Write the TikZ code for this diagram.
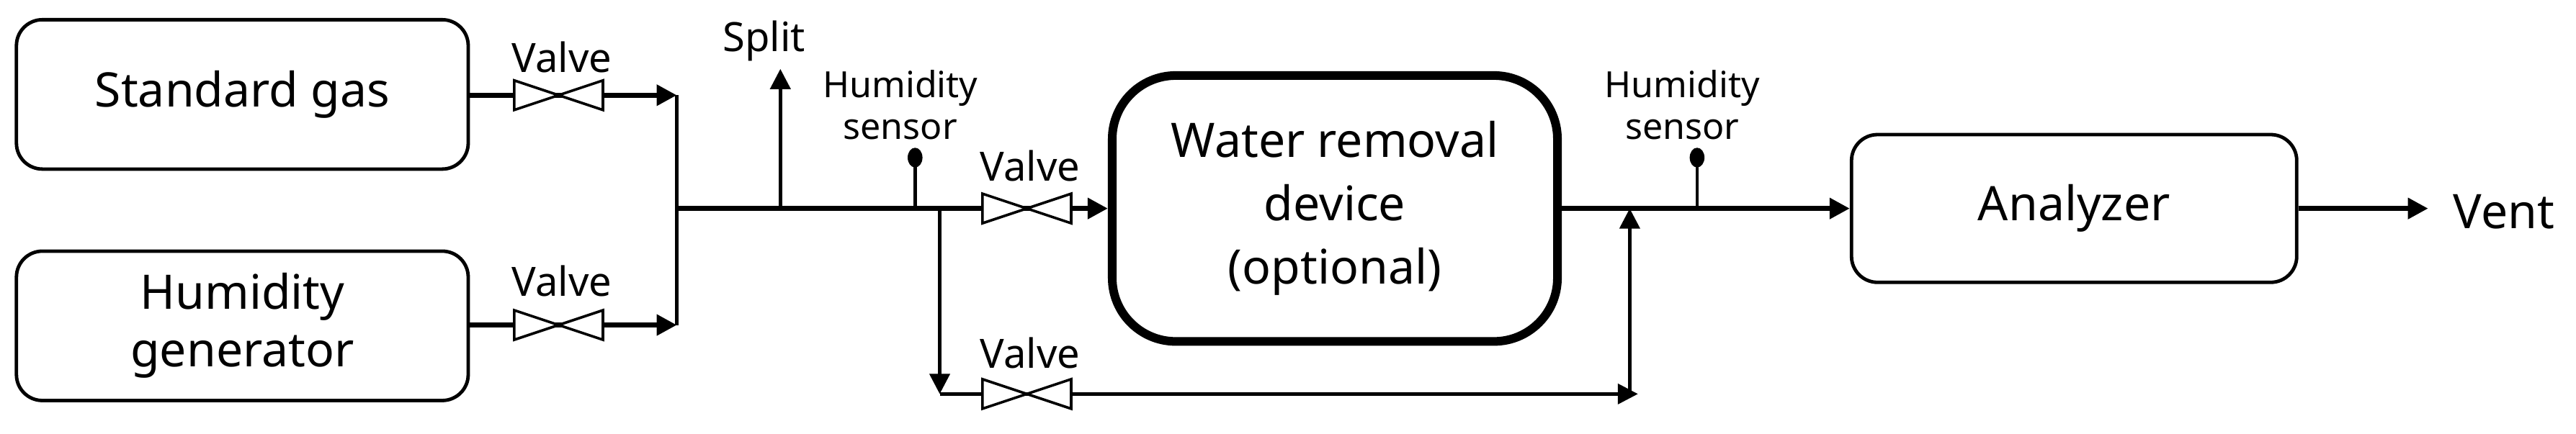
\documentclass[tikz,border=0pt]{standalone}
\usepackage{fontspec}
\setmainfont{Noto Sans}
\usetikzlibrary{arrows.meta}
\begin{document}
\begin{tikzpicture}[x=0.02cm,y=-0.02cm,
 box/.style={draw,line width=1.2pt,rounded corners=9pt,align=center,font=\fontsize{16.5}{20}\selectfont,inner sep=0pt},
 pipe/.style={line width=1.8pt},
 thin/.style={line width=1.1pt},
 arr/.style={-{Triangle[length=7pt,width=7pt]}},
 lbl/.style={font=\fontsize{14}{16}\selectfont,inner sep=0pt},
 slbl/.style={font=\fontsize{12.5}{14.5}\selectfont,inner sep=0pt,align=center},
 valve/.pic={\draw[line width=0.9pt,fill=white] (-27,-9)--(27,9)--(27,-9)--(-27,9)--cycle;}]
\useasboundingbox (0,0) rectangle (1568,264);
\node[box,minimum width=275*0.02cm,minimum height=91*0.02cm] (sg) at (147.5,57.5) {Standard gas};
\node[box,minimum width=275*0.02cm,minimum height=91*0.02cm] (hg) at (147.5,198.5) {Humidity\\generator};
\node[box,line width=3pt,rounded corners=22pt,minimum width=271*0.02cm,minimum height=162*0.02cm,font=\fontsize{16.5}{22}\selectfont] (wr) at (812.5,127) {Water removal\\device\\(optional)};
\node[box,minimum width=271*0.02cm,minimum height=90*0.02cm] (an) at (1262.5,127) {Analyzer};
\node[font=\fontsize{16.5}{20}\selectfont,anchor=west,inner sep=0pt] (vent) at (1493,129) {Vent};
% coordinates
\coordinate (v1) at (340,58); \coordinate (v2) at (340,198);
\coordinate (v3) at (625,127); \coordinate (v4) at (625,240);
\coordinate (j1) at (412,58); \coordinate (j2) at (412,198); \coordinate (jm) at (412,127);
\coordinate (sp0) at (475,127); \coordinate (sp1) at (475,42);
\coordinate (hs1) at (557,127); \coordinate (hd1) at (557,96);
\coordinate (b0) at (572,127); \coordinate (b1) at (572,240);
\coordinate (b2) at (997,240); \coordinate (b3) at (992,240); \coordinate (b4) at (992,127);
\coordinate (hs2) at (1033,127); \coordinate (hd2) at (1033,96);
\coordinate (vo) at (1478,127);
% lines
\draw[pipe] (sg.east|-v1) -- (v1);
\draw[pipe,arr] (v1) -- (j1);
\draw[pipe] (hg.east|-v2) -- (v2);
\draw[pipe,arr] (v2) -- (j2);
\draw[thin] (j1) -- (j2);
\draw[pipe] (jm) -- (v3);
\draw[pipe,arr] (v3) -- (wr.west);
\draw[thin,arr] (sp0) -- (sp1);
\draw[thin] (hs1) -- (hd1); \fill (hd1) ellipse (4.5 and 6);
\draw[thin,arr] (b0) -- (b1);
\draw[thin] (b1) -- (v4);
\draw[thin,arr] (v4) -- (b2);
\draw[thin,arr] (b3) -- (b4);
\draw[pipe,arr] (wr.east) -- (an.west);
\draw[thin] (hs2) -- (hd2); \fill (hd2) ellipse (4.5 and 6);
\draw[pipe,arr] (an.east) -- (vo);
\pic at (v1) {valve}; \pic at (v2) {valve}; \pic at (v3) {valve}; \pic at (v4) {valve};
% labels
\node[lbl] (l1) at (342,35) {Valve};
\node[lbl] (l2) at (342,171) {Valve};
\node[lbl] (l3) at (627,101) {Valve};
\node[lbl] (l4) at (627,215) {Valve};
\node[lbl] (ls) at (465,25) {Split};
\node[slbl] (h1) at (548,64) {Humidity\\sensor};
\node[slbl] (h2) at (1024,64) {Humidity\\sensor};
\end{tikzpicture}
\end{document}
